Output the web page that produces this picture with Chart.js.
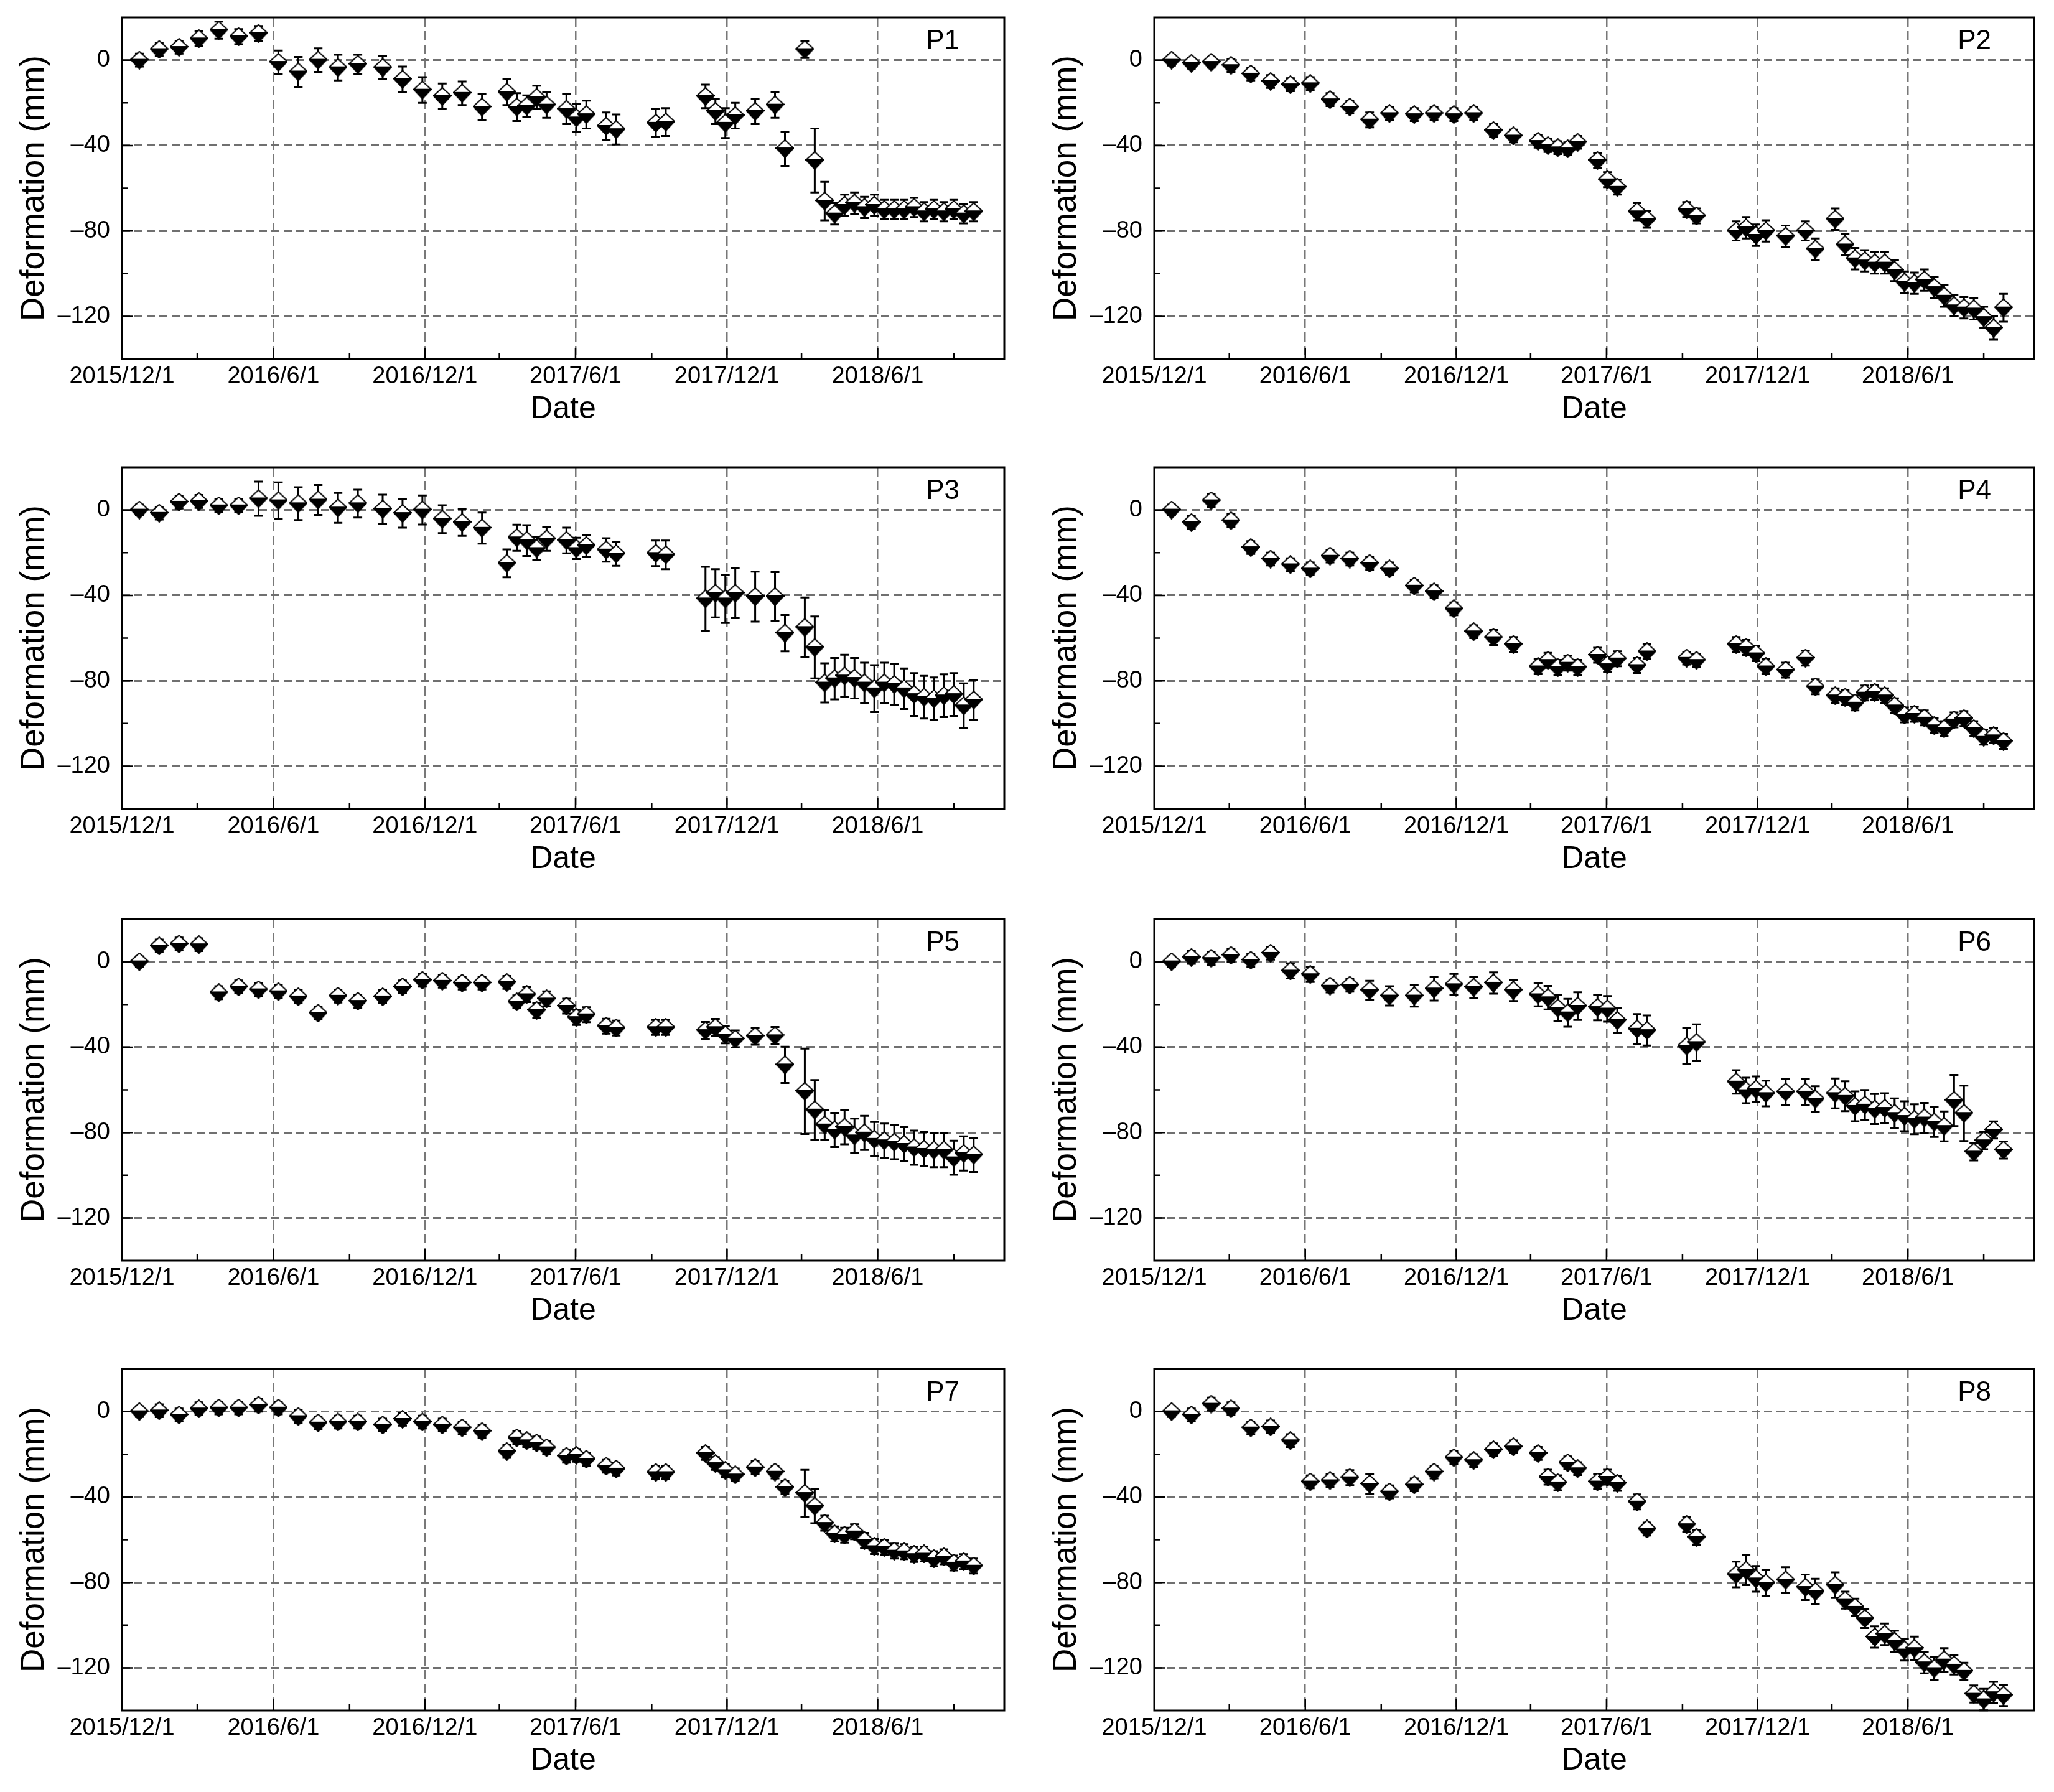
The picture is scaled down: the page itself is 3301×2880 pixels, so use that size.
<!DOCTYPE html>
<html>
<head>
<meta charset="utf-8">
<script src="https://cdn.jsdelivr.net/npm/chart.js@4.4.0/dist/chart.umd.min.js"></script>
<style>
  body { margin: 0; background: #fff; width: 3301px; height: 2880px; position: relative; overflow: hidden; }
  canvas { position: absolute; }
</style>
</head>
<body>
<canvas id="c1" width="1650" height="720" style="left:0;top:0"></canvas>
<canvas id="c2" width="1651" height="720" style="left:1650px;top:0"></canvas>
<canvas id="c3" width="1650" height="720" style="left:0;top:720px"></canvas>
<canvas id="c4" width="1651" height="720" style="left:1650px;top:720px"></canvas>
<canvas id="c5" width="1650" height="720" style="left:0;top:1440px"></canvas>
<canvas id="c6" width="1651" height="720" style="left:1650px;top:1440px"></canvas>
<canvas id="c7" width="1650" height="720" style="left:0;top:2160px"></canvas>
<canvas id="c8" width="1651" height="720" style="left:1650px;top:2160px"></canvas>
<script>
// acquisition dates (same for every point)
const dates = [
  '2015-12-22','2016-01-15','2016-02-08','2016-03-03','2016-03-27','2016-04-20','2016-05-14',
  '2016-06-07','2016-07-01','2016-07-25','2016-08-18','2016-09-11',
  '2016-10-11','2016-11-04','2016-11-28','2016-12-22','2017-01-15','2017-02-08',
  '2017-03-10','2017-03-22','2017-04-03','2017-04-15','2017-04-27',
  '2017-05-21','2017-06-02','2017-06-14',
  '2017-07-08','2017-07-20',
  '2017-09-06','2017-09-18',
  '2017-11-05','2017-11-17','2017-11-29','2017-12-11',
  '2018-01-04',
  '2018-01-28','2018-02-09',
  '2018-03-05','2018-03-17','2018-03-29','2018-04-10','2018-04-22','2018-05-04','2018-05-16',
  '2018-05-28','2018-06-09','2018-06-21','2018-07-03','2018-07-15','2018-07-27','2018-08-08',
  '2018-08-20','2018-09-01','2018-09-13','2018-09-25'
];

// x axis ticks (every 3 months, labels every 6 months)
const xStart = '2015-12-01';
const xEnd = '2018-11-01';
const xTickDates = ['2015-12-01','2016-03-01','2016-06-01','2016-09-01','2016-12-01','2017-03-01',
                    '2017-06-01','2017-09-01','2017-12-01','2018-03-01','2018-06-01','2018-09-01'];
const xTickLabels = ['2015/12/1','','2016/6/1','','2016/12/1','','2017/6/1','','2017/12/1','','2018/6/1',''];

// y axis ticks
const yTickValues = [-140,-120,-100,-80,-60,-40,-20,0,20];
const yTickLabels = ['','–120','','–80','','–40','','0',''];

const names = ['P1','P2','P3','P4','P5','P6','P7','P8'];

// deformation (mm)
const p1 = [0,5,6,10,14,11,12.5, -1,-5.5,0,-3.5,-2, -3.5,-9,-14,-17,-15.5,-22, -15,-22,-21.5,-17.5,-21,
  -23,-27,-25.5, -31,-32.5, -29.5,-29, -17,-24,-29.5,-26, -24, -21,-41.5,
  5,-47,-66,-72,-68,-67,-69,-68,-70,-70,-70,-69,-71,-70,-71,-70,-72,-71];
const p2 = [0,-1.5,-1,-2.5,-6.5,-10,-11.5, -11,-18.5,-22,-28,-25, -25.5,-25,-25.5,-25,-33,-35.5,
  -38,-40,-41,-41.5,-38.5, -47,-56,-59.5, -71,-74.5, -70,-73, -80,-78.5,-82,-80, -82.5, -80,-88.5,
  -74.5,-86.5,-93,-94,-95,-95,-98.5,-104,-104.5,-103,-106.5,-110.5,-115,-116,-116.5,-120.5,-125.5,-116];
const p3 = [0,-1.5,3.7,4,2,2,5.3, 4.4,3,4.7,1,3, 0.4,-1.6,0,-4.3,-5.9,-8.5, -25,-13,-14.3,-18,-13.6,
  -14.3,-18,-16.7, -18.7,-20.5, -20.3,-21, -41.6,-39,-41.6,-39, -40.6, -40.6,-57.7,
  -55,-64.4,-81,-79,-77.7,-78.8,-81,-83.7,-81,-81.7,-83.7,-86.4,-87.7,-88.4,-87,-86.4,-91.7,-89];
const p4 = [0,-5.9,4.4,-5,-17.6,-23,-25.6, -27.6,-21.6,-23,-25,-27.6, -35.6,-38.3,-46.3,-57,-59.7,-63,
  -73.4,-70.4,-73.7,-71.7,-73.7, -68,-72.4,-69.7, -72.8,-66.4, -69.4,-70.4, -63,-64.4,-67.3,-73.4, -75,
  -69.4,-82.8, -87,-87.7,-90.4,-85.7,-85.4,-87,-91.7,-96,-95.7,-97.4,-101,-102.4,-98.3,-97.7,-102.4,
  -106.4,-105.7,-108.4];
const p5 = [0,7.4,8.3,8,-14.5,-11.8,-13.1, -14,-16.4,-24.1,-16.1,-18.5, -16.4,-11.8,-8.7,-9.1,-10,-10,
  -9.7,-18.8,-15.4,-22.8,-17.4, -20.8,-26.1,-24.8, -30.2,-31.1, -30.8,-30.8, -32.2,-30.8,-34.2,-36.2,
  -34.9, -34.6,-48.3, -60.7,-69.4,-76.4,-78.8,-77.5,-81.5,-80.2,-83.1,-83.8,-84.5,-85.5,-87.1,-87.8,
  -88.2,-88.2,-91.8,-89.8,-90.5];
const p6 = [0,2,1.6,3,0.7,4,-4.3, -6,-11.4,-11,-13.4,-16, -16,-12.7,-10.7,-12,-10,-13.4,
  -15.4,-16.8,-21.7,-23.9,-20.8, -21.4,-22.1,-27.5, -31.5,-32.2, -39.5,-37.8, -56.3,-60.3,-59.7,-61.7,
  -61, -61,-64.3, -61.7,-63,-67.7,-67.1,-69,-68.6,-71,-72.4,-73.8,-73.1,-75.1,-77.1,-65,-71,-89.1,
  -83.8,-78.8,-88.2];
const p7 = [0,0.4,-1.6,1.3,1.7,1.7,3, 1.7,-2.3,-5.3,-4.9,-4.9, -6.3,-3.6,-4.9,-6.3,-7.6,-9.3,
  -18.7,-12.3,-13.6,-14.7,-16.9, -20.9,-20.5,-22.3, -25.6,-26.9, -28.5,-28.5, -19.6,-24.3,-27.6,-29.6,
  -26.3, -28.3,-35.6, -38.3,-44.3,-52.3,-57.3,-57.9,-56.3,-60.3,-63.2,-63.6,-65.3,-65.6,-66.9,-66.7,
  -68.9,-68,-70.9,-70.3,-72.3];
const p8 = [0,-1.6,3.5,1.3,-7.6,-7.2,-13.6, -32.9,-32.3,-30.9,-33.9,-37.6, -34.3,-28.3,-21.6,-22.9,-17.9,-16.5,
  -19.6,-30.7,-33.3,-24,-26.7, -32.9,-30.7,-33.6, -42.3,-55, -52.9,-58.9, -76.3,-74.3,-78.3,-80.3,
  -78.9, -82.3,-84.3, -81.3,-88.3,-91.6,-96.9,-105.6,-104.3,-107.6,-111.6,-110.9,-117.6,-120.3,-116.3,
  -118.7,-121.6,-132.3,-134.9,-131.6,-132.9];

// error (mm, +/-)
const e1 = [3,3,3,3.5,4,3.5,3.5, 5.5,7,5.5,6,4.5, 5.5,6,6,6,5.5,6, 6,6.5,5,5.5,6, 7,6.5,6.5, 6.5,7,
  6.5,6.5, 5.5,6,7,6, 6, 6,8, 4,15,9,5,5,5,5,5,4.5,4.5,4.5,4.5,4.5,4.5,4.5,4.5,4.5,4.5];
const e2 = [2.5,2.5,2.5,3,3,3,3, 3,3,3,3.5,3, 3,3,3,3,3,3, 3,3,3,3,3, 3.5,3.5,3.5, 4,4, 3.5,3.5,
  4.5,5,5,5, 5, 4.5,5, 5,5,5,5,5,5,5,5,5,5,5,5,5,5,5,5,5.5,6.5];
const e3 = [2.5,3,3,3,3,3,8, 8.5,7.7,7,7,6.5, 6.8,6.7,6.8,6.5,6.2,7.3, 6.5,6.1,7.2,5.5,5.5, 6,5,5.1,
  5.5,5.6, 6,6.7, 15,11.3,11.3,11.7, 11.7, 11.5,8.5, 14,14.5,9.2,9.7,9.9,9.5,9.5,11,9.5,9.5,9.5,
  10,10,10,10,10,10.5,9.5];
const e4 = [2.5,3,3,3,3,3,3, 3,3,3,3,3, 3,3,3,3,3.5,3.5, 3.5,3.5,3.5,3.5,3.5, 3.5,3.5,3.5, 3.5,3.5,
  3,3, 3.5,3.5,3.5,3.5, 3.5, 3.5,3.5, 3.5,3.5,3.5,3.5,3.5,3.5,3.5,3.5,3.5,3.5,3.5,3.5,3.5,3.5,3.5,
  3.5,3.5,3.5];
const e5 = [2.5,3,3,3,3,3,3, 3,3,3,3,3, 3,3,3,3,3,3, 3,3,3.5,3.5,3.5, 3.5,3.5,3.5, 3.5,3.5, 3.5,3.5,
  4,4,4,4, 4, 4,8.5, 20,14,7,8,8,8,8,8,8,8,8,8,8,8,8,8,8,8];
const e6 = [2.5,3,3,3,3,3,3.5, 3.5,3,3,4.5,4.5, 5,5.5,5,5,5,5, 5.5,5.5,6,6.5,6.5, 6,6,6, 7,7, 8.5,8.5,
  5.5,6,6,6, 6, 6,6, 7,7,7,7,7,7,7,7,7,7,7,7,12,13,4,4,4,4];
const e7 = [2.5,3,3,3,3,3,3, 3,3,3,3,3, 3,3,3,3,3,3, 3,3,3,3,3, 3,3,3, 3,3, 3,3, 3,3,3,3, 3, 3,3,
  11,8,3.5,3.5,3.5,3.5,3.5,3.5,3.5,3.5,3.5,3.5,3.5,3.5,3.5,3.5,3.5,3.5];
const e8 = [2.5,3,3,3,3,3,3, 3,3,3.5,4.5,3, 3,3,3,3,3,3, 3,3.5,3.5,3,3, 3.5,3.5,3.5, 3.5,3, 3.5,3.5,
  6,7,6,6, 6, 6,6, 6,4,4,4.5,5,5,5,5,5.5,5,5.5,5.5,4.5,4,4,5,5,5];

const allValues = [p1, p2, p3, p4, p5, p6, p7, p8];
const allErrors = [e1, e2, e3, e4, e5, e6, e7, e8];

const FONT = 'Liberation Sans, Arial, sans-serif';
Chart.defaults.font.family = FONT;
Chart.defaults.color = '#000';

const toDay = s => {
  const [y, m, d] = s.split('-').map(Number);
  return (Date.UTC(y, m - 1, d) - Date.UTC(2015, 11, 1)) / 86400000;
};
const xTickDays = xTickDates.map(toDay);

// half white / half black diamond symbol
function makeMarker() {
  const c = document.createElement('canvas');
  c.width = 30; c.height = 30;
  const g = c.getContext('2d');
  g.lineWidth = 2; g.strokeStyle = '#000'; g.lineJoin = 'miter';
  g.beginPath(); g.moveTo(15, 1); g.lineTo(29, 14); g.lineTo(1, 14); g.closePath();
  g.fillStyle = '#fff'; g.fill(); g.stroke();
  g.beginPath(); g.moveTo(1, 14); g.lineTo(29, 14); g.lineTo(15, 29); g.closePath();
  g.fillStyle = '#000'; g.fill(); g.stroke();
  return c;
}
const marker = makeMarker();

const errorBars = {
  id: 'errorBars',
  beforeDatasetsDraw(chart, args, opts) {
    const { ctx, scales: { x, y } } = chart;
    const pts = chart.data.datasets[0].data;
    ctx.save();
    ctx.strokeStyle = '#000';
    ctx.lineWidth = 3;
    pts.forEach((p, i) => {
      const e = opts.errors[i];
      const px = x.getPixelForValue(p.x);
      const y1 = y.getPixelForValue(p.y + e);
      const y2 = y.getPixelForValue(p.y - e);
      ctx.beginPath();
      ctx.moveTo(px, y1); ctx.lineTo(px, y2);
      ctx.moveTo(px - 7, y1); ctx.lineTo(px + 7, y1);
      ctx.moveTo(px - 7, y2); ctx.lineTo(px + 7, y2);
      ctx.stroke();
    });
    ctx.restore();
  }
};

const frame = {
  id: 'frame',
  afterDraw(chart, args, opts) {
    const { ctx, chartArea: a, scales: { x, y } } = chart;
    ctx.save();
    ctx.strokeStyle = '#000';
    ctx.lineWidth = 3;
    ctx.strokeRect(a.left, a.top, a.right - a.left, a.bottom - a.top);
    ctx.lineWidth = 2.5;
    ctx.beginPath();
    xTickDays.forEach((d, i) => {
      if (i === 0) return;
      const px = x.getPixelForValue(d);
      const len = xTickLabels[i] ? 18 : 10;
      ctx.moveTo(px, a.bottom); ctx.lineTo(px, a.bottom - len);
    });
    yTickValues.forEach((v, i) => {
      if (i === 0 || i === yTickValues.length - 1) return;
      const py = y.getPixelForValue(v);
      const len = yTickLabels[i] ? 18 : 10;
      ctx.moveTo(a.left, py); ctx.lineTo(a.left + len, py);
    });
    ctx.stroke();
    ctx.fillStyle = '#000';
    ctx.font = '44px ' + FONT;
    ctx.textAlign = 'right';
    ctx.textBaseline = 'alphabetic';
    ctx.fillText(opts.name, a.right - opts.labelRight, a.top + 51);
    ctx.restore();
  }
};

const rowTops = [28, 31, 37, 40];
const plotH = 549;

names.forEach((name, k) => {
  const row = Math.floor(k / 2), col = k % 2;
  const top = rowTops[row];
  const canvasH = 720;
  const xAxisH = canvasH - top - plotH;
  const yAxisW = col === 0 ? 196 : 205;
  const padRight = col === 0 ? 36 : 32;
  const yTitleCenter = col === 0 ? 55 : 64;
  const xTitleFromBottom = xAxisH - 81;

  const points = dates.map((d, i) => ({ x: toDay(d), y: allValues[k][i] }));

  new Chart(document.getElementById('c' + (k + 1)), {
    type: 'scatter',
    data: {
      datasets: [{
        label: name,
        data: points,
        pointStyle: marker,
        pointRadius: 14,
        showLine: false
      }]
    },
    options: {
      responsive: false,
      animation: false,
      devicePixelRatio: 1,
      layout: { padding: { left: 0, right: padRight, top: top, bottom: 0 } },
      plugins: {
        legend: { display: false },
        tooltip: { enabled: false },
        errorBars: { errors: allErrors[k] },
        frame: { name: name, labelRight: col === 0 ? 72 : 69 }
      },
      scales: {
        x: {
          type: 'linear',
          min: 0,
          max: toDay(xEnd) - toDay(xStart),
          afterBuildTicks: s => { s.ticks = xTickDays.map(v => ({ value: v })); },
          afterFit: s => { s.height = xAxisH; s.paddingRight = 0; },
          ticks: {
            autoSkip: false, maxRotation: 0, padding: 6,
            font: { size: 38 }, color: '#000',
            callback: (v, i) => xTickLabels[i]
          },
          grid: {
            drawTicks: false,
            lineWidth: 2.5,
            color: c => (c.index > 0 && xTickLabels[c.index]) ? '#787878' : 'rgba(0,0,0,0)'
          },
          border: { display: false, dash: [15, 7] },
          title: {
            display: true, text: 'Date', color: '#000',
            font: { size: 50, lineHeight: 1 },
            padding: { top: 0, bottom: xTitleFromBottom - 25 }
          }
        },
        y: {
          type: 'linear',
          min: -140,
          max: 20,
          afterBuildTicks: s => { s.ticks = yTickValues.map(v => ({ value: v })); },
          afterFit: s => { s.width = yAxisW; s.paddingTop = 0; s.paddingBottom = 0; },
          ticks: {
            padding: 19,
            font: { size: 38 }, color: '#000',
            callback: (v, i) => yTickLabels[i]
          },
          grid: {
            drawTicks: false,
            lineWidth: 3,
            color: c => yTickLabels[c.index] ? '#707070' : 'rgba(0,0,0,0)'
          },
          border: { display: false, dash: [13, 7] },
          title: {
            display: true, text: 'Deformation (mm)', color: '#000',
            font: { size: 53, lineHeight: 1 },
            padding: { top: yTitleCenter - 26.5, bottom: 0 }
          }
        }
      }
    },
    plugins: [errorBars, frame]
  });
});
</script>
</body>
</html>
